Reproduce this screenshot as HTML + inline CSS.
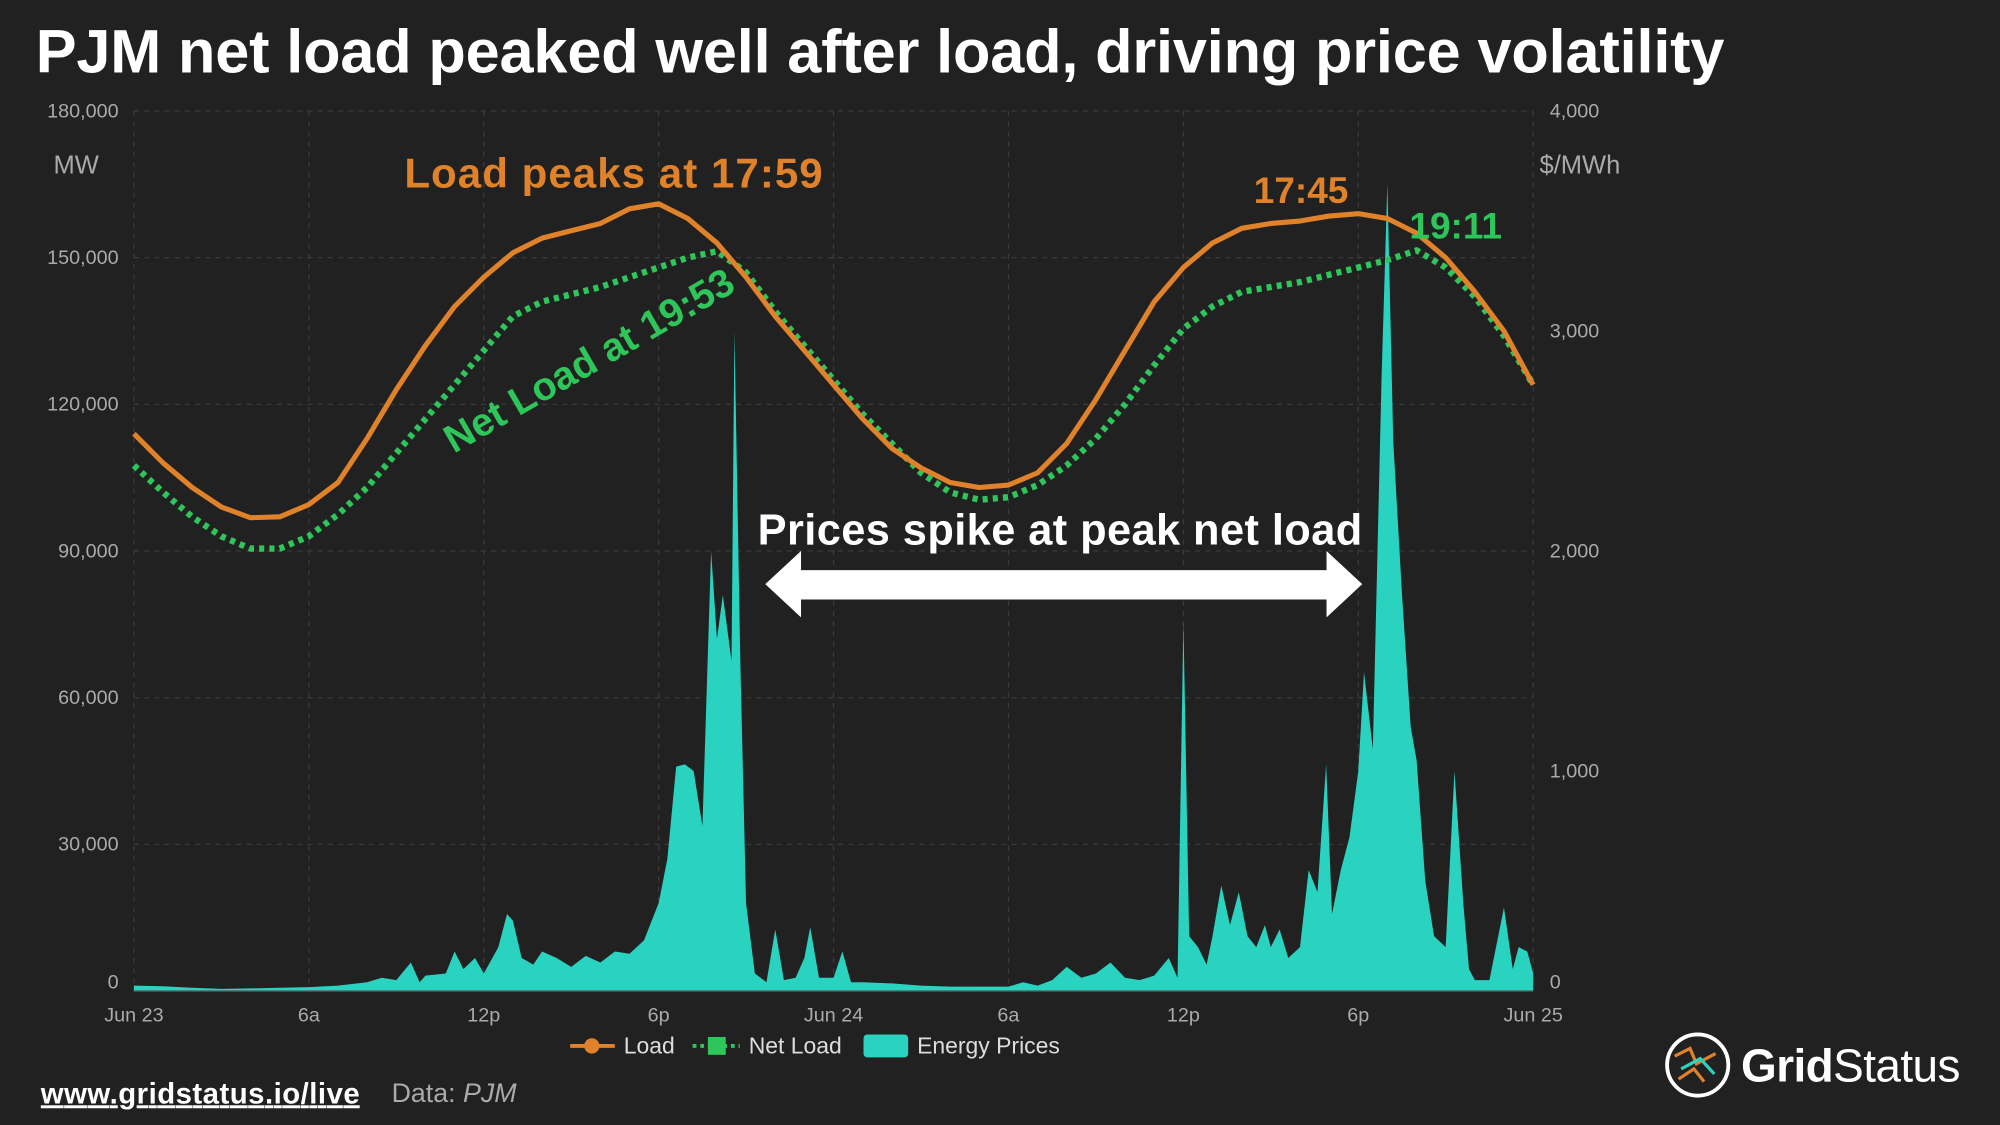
<!DOCTYPE html>
<html><head><meta charset="utf-8"><style>
html,body{margin:0;padding:0;background:#212121;}
svg{display:block;font-family:"Liberation Sans",Arial,sans-serif;}
</style></head><body>
<svg id="chart" width="2000" height="1125" viewBox="0 0 1568 882">
<rect width="1568" height="882" fill="#212121"/>
<text x="28" y="57" fill="#fff" font-size="48" font-weight="bold" textLength="1324">PJM net load peaked well after load, driving price volatility</text>
<g id="grid"></g>
<g id="prices"></g>
<g id="lines"></g>
<g id="axes"></g>
<text x="42" y="136" fill="#aaa" font-size="20">MW</text>
<text x="1207" y="136" fill="#aaa" font-size="20">$/MWh</text>
<text x="317" y="147" fill="#e0822a" font-size="33" font-weight="bold" textLength="328">Load peaks at 17:59</text>
<text x="462" y="293" fill="#2ec55a" font-size="31" font-weight="bold" text-anchor="middle" transform="rotate(-30 462 283)">Net Load at 19:53</text>
<text x="983" y="159" fill="#e0822a" font-size="29" font-weight="bold">17:45</text>
<text x="1105" y="187" fill="#2ec55a" font-size="29" font-weight="bold">19:11</text>
<text x="831" y="427" fill="#fff" font-size="34" font-weight="bold" text-anchor="middle" textLength="474">Prices spike at peak net load</text>
<g>
<rect x="620" y="447" width="428" height="23" fill="#fff"/>
<polygon points="600,458 628,432 628,484" fill="#fff"/>
<polygon points="1068,458 1040,432 1040,484" fill="#fff"/>
</g>
<g font-size="18" fill="#ddd">
<g><line x1="447" y1="820" x2="482" y2="820" stroke="#e0822a" stroke-width="3"/><circle cx="464" cy="820" r="6" fill="#e0822a"/><text x="489" y="826" fill="#ddd">Load</text></g>
<g><line x1="543" y1="820" x2="580" y2="820" stroke="#2ec55a" stroke-width="3" stroke-dasharray="3,3"/><rect x="555" y="813" width="14" height="14" fill="#2ec55a"/><text x="587" y="826" fill="#ddd">Net Load</text></g>
<g><rect x="677" y="811" width="35" height="18" rx="3" fill="#29d3c0"/><text x="719" y="826" fill="#ddd">Energy Prices</text></g>
</g>
<text x="32" y="865" fill="#fff" font-size="23" font-weight="bold" text-decoration="underline" textLength="250">www.gridstatus.io/live</text>
<text x="307" y="864" fill="#aaa" font-size="21">Data: <tspan font-style="italic">PJM</tspan></text>
<g>
<circle cx="1331" cy="835" r="24" fill="none" stroke="#fff" stroke-width="3"/>
<path d="M1313 828 L1325 822 L1330 834 L1345 826 M1316 846 L1328 838 L1336 848" stroke="#e0822a" stroke-width="2.5" fill="none"/>
<path d="M1318 838 L1333 830 L1344 842" stroke="#29d3c0" stroke-width="2.5" fill="none"/>
<text x="1365" y="848" fill="#fff" font-size="36" font-weight="bold" textLength="172">Grid<tspan font-weight="normal">Status</tspan></text>
</g>
</svg>
<script>
const loadValues=[114000,108000,103000,99000,96800,97000,99500,104000,113000,123000,132000,140000,146000,151000,154000,155500,157000,160000,161000,158000,153000,146000,138000,131000,124000,117000,111000,107000,104000,103000,103500,106000,112000,121000,131000,141000,148000,153000,156000,157000,157500,158500,159000,158000,155000,150000,143000,135000,124000];
const netLoadValues=[107500,102000,97000,93000,90500,90500,93000,97500,103000,110000,117000,124000,131000,138000,141000,142500,144000,146000,148000,150000,151300,147000,139000,132000,125000,118000,112000,106000,102000,100500,101000,103500,107500,113000,120000,128000,135500,140000,143000,144000,145000,146500,148000,149500,151500,148000,142000,134000,124000];
const priceHours=[0,1,2,3,4,5,6,7,8,8.5,9,9.5,9.8,10,10.7,11,11.3,11.7,12,12.5,12.8,13,13.3,13.7,14,14.5,15,15.5,16,16.5,17,17.5,18,18.3,18.6,18.9,19.2,19.5,19.8,20,20.2,20.5,20.6,20.8,21,21.3,21.7,22,22.3,22.7,23,23.2,23.5,24,24.3,24.6,25,26,27,28,29,30,30.5,31,31.5,32,32.5,33,33.5,34,34.5,35,35.5,35.8,36,36.2,36.5,36.8,37,37.3,37.6,37.9,38.2,38.5,38.8,39,39.3,39.6,40,40.3,40.6,40.9,41.1,41.4,41.7,42,42.2,42.5,42.8,43,43.2,43.5,43.8,44,44.3,44.6,45,45.3,45.6,45.8,46,46.5,47,47.3,47.5,47.8,48];
const priceValues=[25,22,15,10,12,15,18,25,40,60,50,130,40,70,80,180,100,150,80,200,350,320,150,120,180,150,110,160,130,180,170,230,400,600,1020,1030,1000,750,2000,1600,1800,1500,3000,1500,400,80,40,280,50,60,150,290,60,60,180,40,40,35,25,20,20,20,40,25,50,110,60,80,130,60,50,70,150,60,1680,250,200,120,250,480,300,450,250,200,300,200,280,150,200,550,450,1030,350,550,700,1000,1450,1100,2800,3670,2500,1800,1200,1050,500,250,200,1000,400,100,50,50,380,100,200,180,80];
const leftTicks=[0,30000,60000,90000,120000,150000,180000];
const rightTicks=[0,1000,2000,3000,4000];
const xTickLabels=["Jun 23","6a","12p","6p","Jun 24","6a","12p","6p","Jun 25"];
const xTickHours=[0,6,12,18,24,30,36,42,48];
const X0=105,X1=1202,Y0=777,YT=87;
const xs=h=>X0+(X1-X0)*h/48;
const yl=v=>Y0-(Y0-YT)*v/180000;
const yr=v=>Y0-(Y0-YT)*v/4000;
const NS="http://www.w3.org/2000/svg";
function mk(tag,attrs,parent){const e=document.createElementNS(NS,tag);for(const k in attrs)e.setAttribute(k,attrs[k]);parent.appendChild(e);return e;}
const grid=document.getElementById('grid'),axes=document.getElementById('axes');
leftTicks.forEach((t,i)=>{
 const g=mk('line',{x1:X0,x2:X1,y1:yl(t),y2:yl(t),stroke:'#3a3a3a','stroke-dasharray':'4,4'},grid);
 
 
 const tx=mk('text',{x:93,y:yl(t)+(t===0?-2:5),fill:'#aaa','font-size':15.5,'text-anchor':'end'},axes);
 tx.textContent=t.toLocaleString('en-US');
 
 
});
rightTicks.forEach(t=>{
 const tx=mk('text',{x:1215,y:yr(t)+(t===0?-2:5),fill:'#aaa','font-size':15.5},axes);
 tx.textContent=t.toLocaleString('en-US');
 
 
});
xTickHours.forEach((h,i)=>{
 const g=mk('line',{x1:xs(h),x2:xs(h),y1:YT,y2:Y0,stroke:'#3a3a3a','stroke-dasharray':'4,4'},grid);
 
 
 const tx=mk('text',{x:xs(h),y:801,fill:'#aaa','font-size':15.5,'text-anchor':'middle'},axes);
 tx.textContent=xTickLabels[i];
 
 
});
const base=mk('line',{x1:X0,x2:X1,y1:Y0,y2:Y0,stroke:'#555'},axes);


let d='M'+xs(priceHours[0])+','+Y0;
priceHours.forEach((h,i)=>{d+=' L'+xs(h).toFixed(1)+','+yr(priceValues[i]).toFixed(1);});
d+=' L'+xs(priceHours[priceHours.length-1])+','+Y0+' Z';
const area=mk('path',{d:d,fill:'#29d3c0'},document.getElementById('prices'));


function linePath(vals){return vals.map((v,i)=>(i?'L':'M')+xs(i).toFixed(1)+','+yl(v).toFixed(1)).join(' ');}
const lines=document.getElementById('lines');
const nl=mk('path',{d:linePath(netLoadValues),fill:'none',stroke:'#2ec55a','stroke-width':5,'stroke-dasharray':'4,4','stroke-linejoin':'round'},lines);


const ll=mk('path',{d:linePath(loadValues),fill:'none',stroke:'#e0822a','stroke-width':4,'stroke-linejoin':'round'},lines);


</script>
</body></html>
